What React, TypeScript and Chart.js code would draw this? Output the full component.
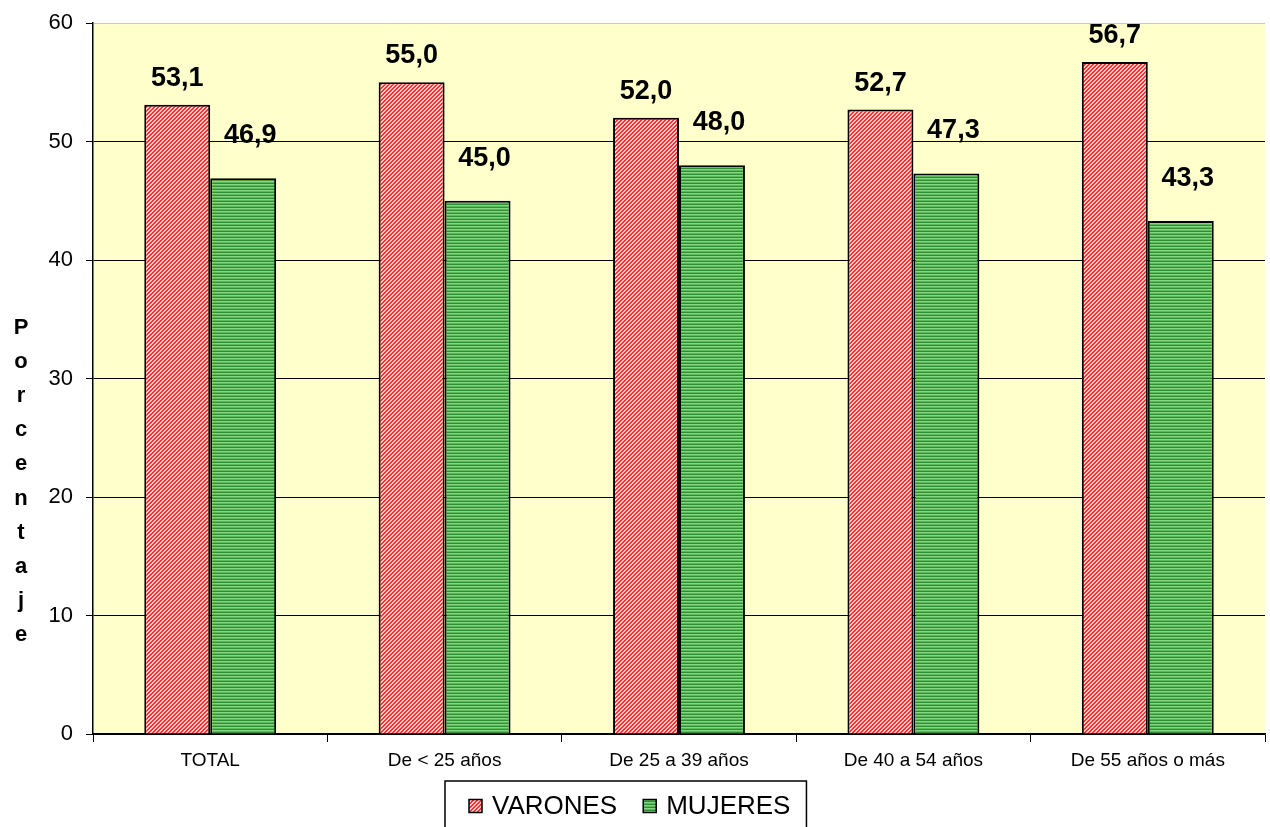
import React, { useEffect, useRef } from "react";
import { Chart, registerables } from "chart.js";

Chart.register(...registerables);

const categories = ["TOTAL", "De < 25 años", "De 25 a 39 años", "De 40 a 54 años", "De 55 años o más"];
const varones = [53.1, 55.0, 52.0, 52.7, 56.7];
const mujeres = [46.9, 45.0, 48.0, 47.3, 43.3];
const seriesNames = ["VARONES", "MUJERES"];
const yMin = 0;
const yMax = 60;
const yStep = 10;
const axisTitle = "Porcentaje";

const FONT = "'Liberation Sans', Arial, sans-serif";

function makeRedPattern(ctx: CanvasRenderingContext2D): CanvasPattern | string {
  const c = document.createElement("canvas");
  c.width = 4;
  c.height = 4;
  const g = c.getContext("2d")!;
  g.fillStyle = "#ffc8c8";
  g.fillRect(0, 0, 4, 4);
  g.fillStyle = "#ff3030";
  for (let x = 0; x < 4; x++) {
    for (let y = 0; y < 4; y++) {
      if ((x + y) % 4 < 2) g.fillRect(x, y, 1, 1);
    }
  }
  return ctx.createPattern(c, "repeat") || "#ff8080";
}

function makeGreenPattern(ctx: CanvasRenderingContext2D): CanvasPattern | string {
  const c = document.createElement("canvas");
  c.width = 4;
  c.height = 3;
  const g = c.getContext("2d")!;
  const rows = ["#2f8f2f", "#86d486", "#5cb85c"];
  rows.forEach((col, i) => {
    g.fillStyle = col;
    g.fillRect(0, i, 4, 1);
  });
  return ctx.createPattern(c, "repeat") || "#60b060";
}

const fmt = (v: number) => v.toFixed(1).replace(".", ",");

export default function App() {
  const ref = useRef<HTMLCanvasElement | null>(null);

  useEffect(() => {
    const canvas = ref.current;
    if (!canvas) return;
    const ctx = canvas.getContext("2d")!;
    const redPat = makeRedPattern(ctx);
    const greenPat = makeGreenPattern(ctx);
    const fills = [redPat, greenPat];
    const labelLift = [19, 35];
    const labelShift = [0, 7];

    const bgPlugin = {
      id: "plotBg",
      beforeDraw(chart: any) {
        const { ctx: c, chartArea: a } = chart;
        c.save();
        c.fillStyle = "#ffffcc";
        c.fillRect(a.left, a.top, a.right - a.left, a.bottom - a.top);
        c.restore();
      },
    };

    const overlayPlugin = {
      id: "overlay",
      afterDraw(chart: any) {
        const c: CanvasRenderingContext2D = chart.ctx;
        c.save();
        // data labels
        c.font = `bold 27px ${FONT}`;
        c.fillStyle = "#000";
        c.textAlign = "center";
        c.textBaseline = "alphabetic";
        chart.data.datasets.forEach((ds: any, di: number) => {
          const meta = chart.getDatasetMeta(di);
          meta.data.forEach((bar: any, i: number) => {
            c.fillText(fmt(ds.data[i]), bar.x + labelShift[di], bar.y - labelLift[di]);
          });
        });
        // vertical axis title, stacked letters
        c.font = `bold 22px ${FONT}`;
        c.textBaseline = "middle";
        const letters = axisTitle.split("");
        letters.forEach((ch, i) => {
          c.fillText(ch, 21, 328 + i * 34.1);
        });
        // legend
        c.font = `26px ${FONT}`;
        c.textAlign = "left";
        const left = 445;
        const top = 781;
        const padL = 24;
        const box = 13;
        const gap = 10;
        const itemGap = 26;
        let x = left + padL;
        const cy = 806;
        seriesNames.forEach((name, i) => {
          c.fillStyle = fills[i] as any;
          c.fillRect(x, cy - box / 2, box, box);
          c.strokeStyle = "#000";
          c.lineWidth = 1.5;
          c.strokeRect(x, cy - box / 2, box, box);
          x += box + gap;
          c.fillStyle = "#000";
          c.fillText(name, x, cy + 1);
          x += c.measureText(name).width + itemGap;
        });
        const right = x - itemGap + 16;
        c.strokeStyle = "#000";
        c.lineWidth = 1.5;
        c.beginPath();
        c.moveTo(left, chart.height + 5);
        c.lineTo(left, top);
        c.lineTo(right, top);
        c.lineTo(right, chart.height + 5);
        c.stroke();
        c.restore();
      },
    };

    const chart = new Chart(canvas, {
      type: "bar",
      data: {
        labels: categories,
        datasets: [
          {
            label: seriesNames[0],
            data: varones,
            backgroundColor: redPat as any,
            borderColor: "#000",
            borderWidth: 2,
          },
          {
            label: seriesNames[1],
            data: mujeres,
            backgroundColor: greenPat as any,
            borderColor: "#000",
            borderWidth: 2,
          },
        ],
      },
      options: {
        animation: false,
        responsive: false,
        maintainAspectRatio: false,
        layout: { padding: { top: 23, right: 5, left: 0, bottom: 0 } },
        plugins: {
          legend: { display: false },
          tooltip: { enabled: false },
        },
        datasets: {
          bar: { categoryPercentage: 0.5627, barPercentage: 1 },
        },
        scales: {
          x: {
            grid: {
              offset: true,
              drawOnChartArea: false,
              drawTicks: true,
              tickLength: 8,
              color: "#000",
              lineWidth: 1,
            },
            border: { color: "#000", width: 1.5 },
            ticks: {
              color: "#000",
              font: { family: FONT, size: 19 },
              padding: 7,
              maxRotation: 0,
              autoSkip: false,
            },
            afterFit(scale: any) {
              scale.height = 93;
            },
          },
          y: {
            min: yMin,
            max: yMax,
            grid: {
              color: (ctx: any) => (ctx.tick && ctx.tick.value === yMax ? "#c8c8c8" : "#000"),
              tickColor: "#000",
              tickLength: 7,
              lineWidth: 1,
            },
            border: { color: "#000", width: 1.5 },
            ticks: {
              stepSize: yStep,
              color: "#000",
              font: { family: FONT, size: 22 },
              padding: 13,
            },
            afterFit(scale: any) {
              scale.width = 93;
              scale.paddingTop = 13;
            },
          },
        },
      },
      plugins: [bgPlugin, overlayPlugin],
    });

    return () => chart.destroy();
  }, []);

  return (
    <div style={{ position: "fixed", left: 0, top: 0, width: 1270, height: 827, background: "#fff" }}>
      <canvas ref={ref} width={1270} height={827} style={{ width: 1270, height: 827, display: "block" }} />
    </div>
  );
}
